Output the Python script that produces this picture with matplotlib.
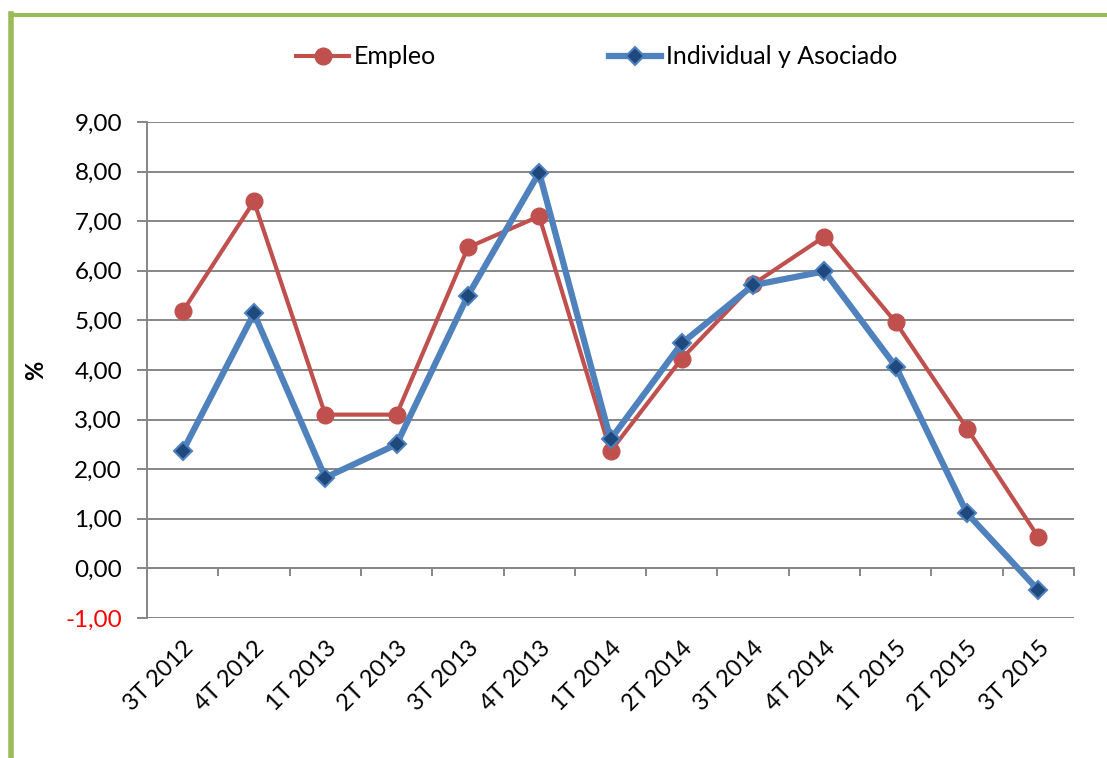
import matplotlib
matplotlib.use("Agg")
import matplotlib.pyplot as plt
from matplotlib.lines import Line2D

categories = ["3T 2012", "4T 2012", "1T 2013", "2T 2013", "3T 2013", "4T 2013", "1T 2014",
              "2T 2014", "3T 2014", "4T 2014", "1T 2015", "2T 2015", "3T 2015"]
empleo = [5.18, 7.40, 3.10, 3.10, 6.47, 7.10, 2.36, 4.23, 5.73, 6.69, 4.96, 2.82, 0.63]
individual = [2.36, 5.14, 1.83, 2.50, 5.50, 7.98, 2.60, 4.54, 5.71, 5.99, 4.07, 1.11, -0.44]
yticks = [-1, 0, 1, 2, 3, 4, 5, 6, 7, 8, 9]
ytick_labels = [f"{v:.2f}".replace(".", ",") for v in yticks]

plt.rcParams['font.family'] = ['Lato', 'DejaVu Sans']

W, H = 1107, 758
fig = plt.figure(figsize=(W / 100, H / 100), dpi=100)
ax = fig.add_axes([147 / W, 1 - 618 / H, (1074 - 147) / W, (618 - 122) / H])

grid_c = "#868686"
red = "#C0504D"
blue = "#4F81BD"
navy = "#1F497D"

x = list(range(len(categories)))
ax.set_xlim(-0.5, len(categories) - 0.5)
ax.set_ylim(-1, 9)

for v in yticks:
    ax.axhline(v, color=grid_c, lw=1.4, zorder=1)

ax.plot(x, empleo, color=red, lw=3, marker="o", markersize=12,
        markerfacecolor=red, markeredgecolor=red, zorder=3, label="Empleo")
ax.plot(x, individual, color=blue, lw=4.5, marker="D", markersize=9,
        markerfacecolor=navy, markeredgecolor=blue, markeredgewidth=1.5,
        zorder=4, label="Individual y Asociado")

for s in ["top", "right", "bottom"]:
    ax.spines[s].set_visible(False)
ax.spines["left"].set_color(grid_c)
ax.spines["left"].set_linewidth(1.4)

ax.set_yticks(yticks, labels=ytick_labels)
ax.tick_params(axis="y", direction="out", length=7, width=1.4, color=grid_c,
               labelsize=17.5, pad=11)
for lab, v in zip(ax.get_yticklabels(), yticks):
    if v < 0:
        lab.set_color("#FF0000")

ax.set_xticks(x, labels=categories, rotation=45, ha="right", rotation_mode="anchor")
ax.tick_params(axis="x", length=0, labelsize=17, pad=14)

sec = ax.secondary_xaxis(0.1)
sec.set_xticks([i - 0.5 for i in range(len(categories) + 1)], labels=[])
sec.tick_params(axis="x", direction="out", length=6, width=1.4, color=grid_c)
sec.spines["bottom"].set_color(grid_c)
sec.spines["bottom"].set_linewidth(1.4)

ax.set_ylabel("%", fontsize=17, fontweight="bold")
ax.yaxis.set_label_coords((47 - 147) / (1074 - 147), 0.5)

leg = fig.legend(loc="center", bbox_to_anchor=(597 / W, 1 - 57 / H), ncol=2,
                 frameon=False, fontsize=18, handlelength=2.1, handletextpad=0.2,
                 columnspacing=6.9)

# green frame (left and top)
fig.add_artist(Line2D([10.5 / W, 10.5 / W], [0, 1 - 14 / H], color="#9BBB59", lw=4,
                      transform=fig.transFigure, solid_capstyle="projecting"))
fig.add_artist(Line2D([10.5 / W, 1], [1 - 14.5 / H, 1 - 14.5 / H], color="#9BBB59", lw=3,
                      transform=fig.transFigure, solid_capstyle="butt"))

fig.savefig("out.png", dpi=100)
